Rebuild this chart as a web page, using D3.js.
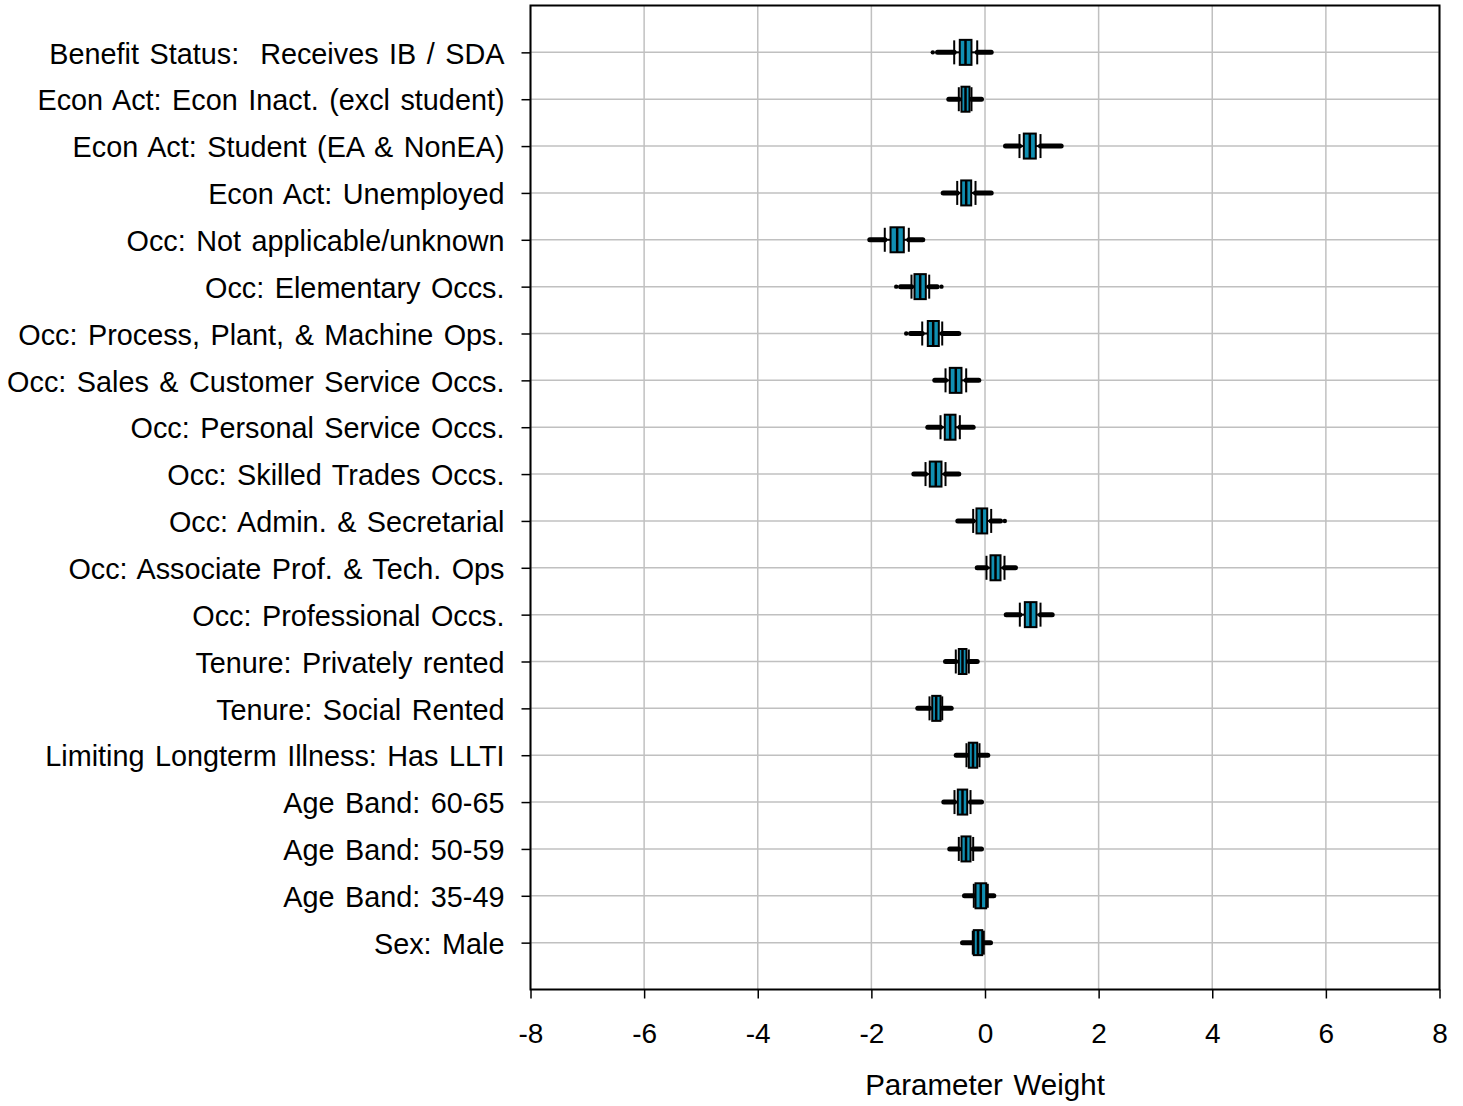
<!DOCTYPE html>
<html>
<head>
<meta charset="utf-8">
<script src="https://cdn.jsdelivr.net/npm/d3@7"></script>
<style>
  html, body { margin: 0; padding: 0; background: #fff; }
  svg { display: block; font-family: "Liberation Sans", Arial, sans-serif; }
</style>
</head>
<body>
<svg id="chart" width="1463" height="1106"></svg>
<script>
// ---------- data ----------
const categories = [
  "Benefit Status:  Receives IB / SDA",
  "Econ Act: Econ Inact. (excl student)",
  "Econ Act: Student (EA & NonEA)",
  "Econ Act: Unemployed",
  "Occ: Not applicable/unknown",
  "Occ: Elementary Occs.",
  "Occ: Process, Plant, & Machine Ops.",
  "Occ: Sales & Customer Service Occs.",
  "Occ: Personal Service Occs.",
  "Occ: Skilled Trades Occs.",
  "Occ: Admin. & Secretarial",
  "Occ: Associate Prof. & Tech. Ops",
  "Occ: Professional Occs.",
  "Tenure: Privately rented",
  "Tenure: Social Rented",
  "Limiting Longterm Illness: Has LLTI",
  "Age Band: 60-65",
  "Age Band: 50-59",
  "Age Band: 35-49",
  "Sex: Male"
];
const minValues    = [-0.836, -0.637, 0.361, -0.736, -2.028, -1.487, -1.311, -0.884, -1.007, -1.253, -0.479, -0.137, 0.373, -0.695, -1.183, -0.507, -0.725, -0.620, -0.361, -0.396];
const lowWhisker   = [-0.542, -0.461, 0.607, -0.489, -1.764, -1.294, -1.105, -0.695, -0.783, -1.047, -0.208,  0.026, 0.613, -0.514, -0.977, -0.326, -0.537, -0.461, -0.197, -0.215];
const q1Values     = [-0.444, -0.414, 0.683, -0.419, -1.663, -1.241, -1.007, -0.620, -0.708, -0.972, -0.150,  0.097, 0.701, -0.461, -0.929, -0.285, -0.479, -0.414, -0.167, -0.197];
const medianValues = [-0.343, -0.343, 0.789, -0.331, -1.546, -1.141, -0.912, -0.514, -0.613, -0.866, -0.056,  0.185, 0.801, -0.396, -0.859, -0.211, -0.396, -0.334, -0.074, -0.123];
const q3Values     = [-0.238, -0.273, 0.894, -0.243, -1.429, -1.042, -0.813, -0.414, -0.519, -0.766,  0.039,  0.273, 0.906, -0.326, -0.783, -0.137, -0.313, -0.255,  0.021, -0.049];
const highWhisker  = [-0.137, -0.238, 0.977, -0.167, -1.341, -0.982, -0.753, -0.331, -0.443, -0.695,  0.109,  0.343, 0.977, -0.285, -0.753, -0.097, -0.255, -0.208,  0.049, -0.021];
const maxValues    = [ 0.109, -0.062, 1.341,  0.109, -1.095, -0.842, -0.461, -0.109, -0.208, -0.461,  0.273,  0.537, 1.183, -0.137, -0.595,  0.049, -0.062, -0.062,  0.155,  0.097];
const outlierCats  = ["Benefit Status:  Receives IB / SDA", "Occ: Elementary Occs.", "Occ: Elementary Occs.", "Occ: Process, Plant, & Machine Ops.", "Occ: Admin. & Secretarial"];
const outlierVals  = [-0.919, -1.563, -0.766, -1.387, 0.349];
const xTicks = [-8, -6, -4, -2, 0, 2, 4, 6, 8];
const xTitle = "Parameter Weight";

// ---------- layout ----------
const plotLeft = 530.5, plotRight = 1439.5, plotTop = 5.5, plotBottom = 989.5;
const boxColor = "#108fb2";
const boxHalf = 12.5, tickHalf = 12;

const svg = d3.select("#chart");
const x = d3.scaleLinear().domain([-8, 8]).range([plotLeft, plotRight]);
const y = d3.scalePoint().domain(categories).range([plotTop, plotBottom]).padding(1);

// gridlines
const grid = svg.append("g").attr("stroke", "#c0c0c0").attr("stroke-width", 1.5);
grid.selectAll("line.v").data(xTicks).join("line").attr("class", "v")
  .attr("x1", d => x(d)).attr("x2", d => x(d)).attr("y1", plotTop).attr("y2", plotBottom);
grid.selectAll("line.h").data(categories).join("line").attr("class", "h")
  .attr("x1", plotLeft).attr("x2", plotRight).attr("y1", d => y(d)).attr("y2", d => y(d));

// axes
const xAxis = d3.axisBottom(x).tickValues(xTicks).tickSize(9).tickSizeOuter(0).tickPadding(25);
const gx = svg.append("g").attr("transform", `translate(0,${plotBottom})`).call(xAxis);
gx.select(".domain").remove();
gx.selectAll(".tick line").attr("stroke", "#000").attr("stroke-width", 1.5);
gx.selectAll(".tick text").attr("fill", "#000").attr("font-size", 28)
  .attr("font-family", "Liberation Sans, Arial, sans-serif").text(d => d < 0 ? "-" + Math.abs(d) : String(d));

const yAxis = d3.axisLeft(y).tickSize(9).tickSizeOuter(0).tickPadding(17);
const gy = svg.append("g").attr("transform", `translate(${plotLeft},0)`).call(yAxis);
gy.select(".domain").remove();
gy.selectAll(".tick line").attr("stroke", "#000").attr("stroke-width", 1.5);
gy.selectAll(".tick text").attr("fill", "#000").attr("font-size", 28.8).attr("dy", "0.37em")
  .attr("font-family", "Liberation Sans, Arial, sans-serif")
  .style("white-space", "pre").style("word-spacing", "2.5px");

// plot border
svg.append("rect").attr("x", plotLeft).attr("y", plotTop).attr("width", plotRight - plotLeft).attr("height", plotBottom - plotTop)
  .attr("fill", "none").attr("stroke", "#000").attr("stroke-width", 2);

// x title
svg.append("text").attr("x", x(0)).attr("y", 1095).attr("text-anchor", "middle")
  .attr("font-size", 29.5).style("word-spacing", "2.5px").attr("fill", "#000").text(xTitle);

// boxes
const rows = categories.map((c, i) => ({
  c, min: minValues[i], lo: lowWhisker[i], q1: q1Values[i], med: medianValues[i],
  q3: q3Values[i], hi: highWhisker[i], max: maxValues[i]
}));
const g = svg.append("g");
g.selectAll("line.tl").data(rows).join("line").attr("class", "tl")
  .attr("x1", d => x(d.min)).attr("x2", d => x(d.lo)).attr("y1", d => y(d.c)).attr("y2", d => y(d.c))
  .attr("stroke", "#000").attr("stroke-width", 5).attr("stroke-linecap", "round");
g.selectAll("line.th").data(rows).join("line").attr("class", "th")
  .attr("x1", d => x(d.hi)).attr("x2", d => x(d.max)).attr("y1", d => y(d.c)).attr("y2", d => y(d.c))
  .attr("stroke", "#000").attr("stroke-width", 5).attr("stroke-linecap", "round");
g.selectAll("line.w").data(rows).join("line").attr("class", "w")
  .attr("x1", d => x(d.lo)).attr("x2", d => x(d.hi)).attr("y1", d => y(d.c)).attr("y2", d => y(d.c))
  .attr("stroke", "#000").attr("stroke-width", 2);
g.selectAll("circle.o").data(outlierVals).join("circle").attr("class", "o")
  .attr("cx", d => x(d)).attr("cy", (d, i) => y(outlierCats[i])).attr("r", 2.2).attr("fill", "#000");
["lo", "hi"].forEach(k => {
  g.selectAll("line.k" + k).data(rows).join("line").attr("class", "k" + k)
    .attr("x1", d => x(d[k])).attr("x2", d => x(d[k]))
    .attr("y1", d => y(d.c) - tickHalf).attr("y2", d => y(d.c) + tickHalf)
    .attr("stroke", "#000").attr("stroke-width", 2);
});
g.selectAll("rect.b").data(rows).join("rect").attr("class", "b")
  .attr("x", d => x(d.q1)).attr("width", d => x(d.q3) - x(d.q1))
  .attr("y", d => y(d.c) - boxHalf).attr("height", boxHalf * 2)
  .attr("fill", boxColor).attr("stroke", "#000").attr("stroke-width", 2);
g.selectAll("line.m").data(rows).join("line").attr("class", "m")
  .attr("x1", d => x(d.med)).attr("x2", d => x(d.med))
  .attr("y1", d => y(d.c) - boxHalf).attr("y2", d => y(d.c) + boxHalf)
  .attr("stroke", "#000").attr("stroke-width", 2.5);
</script>
</body>
</html>
